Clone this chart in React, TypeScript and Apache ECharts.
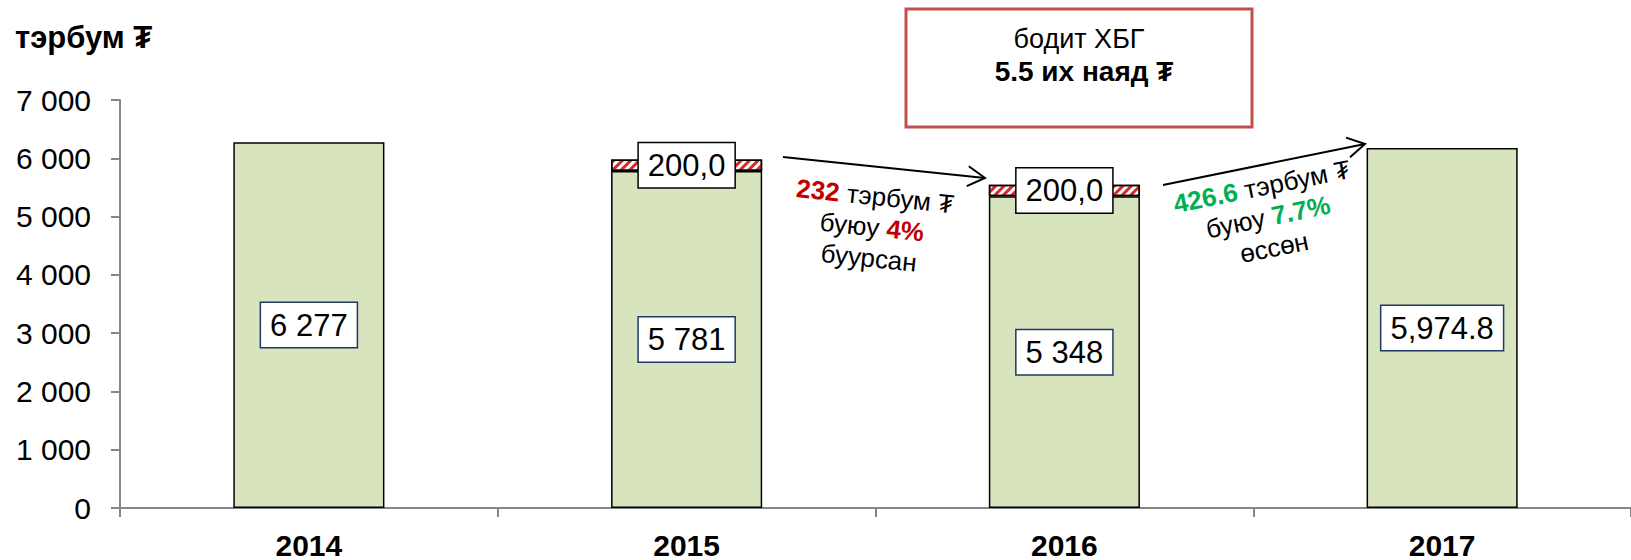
import React, { useEffect, useRef } from "react";
import * as echarts from "echarts";

const years = ["2014", "2015", "2016", "2017"];
const baseValues = [6277, 5781, 5348, 6175];
const baseLabels = ["6 277", "5 781", "5 348", "5,974.8"];
const hatchValues: (number | null)[] = [null, 200, 200, null];
const hatchLabels = ["", "200,0", "200,0", ""];
const yMax = 7000;
const yInterval = 1000;

const FONT = '"Liberation Sans", Arial, "DejaVu Sans", sans-serif';
const GREEN = "#00b050";
const RED = "#c00000";

function arrow(x1: number, y1: number, x2: number, y2: number) {
  const ang = Math.atan2(y2 - y1, x2 - x1) + Math.PI;
  const len = 20;
  const a1 = ang + Math.PI / 6;
  const a2 = ang - Math.PI / 6;
  return [
    { type: "line", shape: { x1, y1, x2, y2 }, style: { stroke: "#000", lineWidth: 2 }, z: 10 },
    {
      type: "polyline",
      shape: {
        points: [
          [x2 + len * Math.cos(a1), y2 + len * Math.sin(a1)],
          [x2, y2],
          [x2 + len * Math.cos(a2), y2 + len * Math.sin(a2)],
        ],
      },
      style: { stroke: "#000", lineWidth: 2, fill: null },
      z: 10,
    },
  ];
}

export default function App() {
  const ref = useRef<HTMLDivElement>(null);
  useEffect(() => {
    if (!ref.current) return;
    const chart = echarts.init(ref.current, undefined, { renderer: "svg" });
    const fmt = (v: number) => String(v).replace(/\B(?=(\d{3})+(?!\d))/g, " ");
    chart.setOption({
      animation: false,
      grid: { left: 120, top: 100, bottom: 51, right: -14, containLabel: false },
      xAxis: {
        type: "category",
        data: years,
        axisLine: { lineStyle: { color: "#868686", width: 2 } },
        axisTick: { show: true, length: 9, lineStyle: { color: "#868686", width: 2 } },
        axisLabel: { fontFamily: FONT, fontSize: 30, fontWeight: "bold", color: "#000", margin: 22 },
      },
      yAxis: {
        type: "value",
        min: 0,
        max: yMax,
        interval: yInterval,
        splitLine: { show: false },
        axisLine: { show: true, lineStyle: { color: "#868686", width: 2 } },
        axisTick: { show: true, length: 9, lineStyle: { color: "#868686", width: 2 } },
        axisLabel: { fontFamily: FONT, fontSize: 30, color: "#000", margin: 29, formatter: fmt },
      },
      series: [
        {
          type: "bar",
          stack: "t",
          data: baseValues,
          barWidth: "40%",
          itemStyle: { color: "#d7e4bd", borderColor: "#000", borderWidth: 1.5 },
          label: {
            show: true,
            position: "inside",
            formatter: (p: any) => baseLabels[p.dataIndex],
            fontFamily: FONT,
            fontSize: 31,
            color: "#000",
            backgroundColor: "#fff",
            borderColor: "#1f3864",
            borderWidth: 1.5,
            padding: [5, 9],
            lineHeight: 34,
          },
        },
        {
          type: "bar",
          stack: "t",
          data: hatchValues,
          barWidth: "40%",
          itemStyle: {
            color: "#fff",
            borderColor: "#000",
            borderWidth: 1.5,
            decal: {
              symbol: "rect",
              symbolSize: 1,
              dashArrayX: [1, 0],
              dashArrayY: [3, 3],
              rotation: -Math.PI / 4,
              color: "#d42a2a",
            },
          },
          label: {
            show: true,
            position: "inside",
            formatter: (p: any) => hatchLabels[p.dataIndex],
            fontFamily: FONT,
            fontSize: 31,
            color: "#000",
            backgroundColor: "#fff",
            borderColor: "#000",
            borderWidth: 1.5,
            padding: [5, 9],
            lineHeight: 34,
          },
          z: 3,
        },
      ],
      graphic: [
        {
          type: "text",
          x: 15,
          y: 37,
          style: { text: "тэрбум ₮", font: `bold 31px ${FONT}`, fill: "#000", textVerticalAlign: "middle" },
        },
        {
          type: "rect",
          shape: { x: 906, y: 9, width: 346, height: 118 },
          style: { fill: "#fff", stroke: "#c0504d", lineWidth: 3 },
        },
        {
          type: "text",
          x: 1079,
          y: 39,
          style: { text: "бодит ХБГ", font: `27px ${FONT}`, fill: "#000", textAlign: "center", textVerticalAlign: "middle" },
        },
        {
          type: "text",
          x: 1084,
          y: 71,
          style: { text: "5.5 их наяд ₮", font: `bold 28px ${FONT}`, fill: "#000", textAlign: "center", textVerticalAlign: "middle" },
        },
        ...arrow(783, 157, 985, 178),
        ...arrow(1163, 185, 1365, 144),
        {
          type: "text",
          x: 872,
          y: 227,
          rotation: -0.103,
          style: {
            text: "{r|232} тэрбум ₮\nбуюу {r|4%}\nбуурсан",
            font: `26px ${FONT}`,
            fill: "#000",
            textAlign: "center",
            textVerticalAlign: "middle",
            lineHeight: 31,
            rich: {
              r: { fill: RED, fontWeight: "bold", fontSize: 26, fontFamily: FONT, lineHeight: 31 },
            },
          },
          z: 10,
        },
        {
          type: "text",
          x: 1268,
          y: 217,
          rotation: 0.2,
          style: {
            text: "{g|426.6} тэрбум ₮\nбуюу {g|7.7%}\nөссөн",
            font: `26px ${FONT}`,
            fill: "#000",
            textAlign: "center",
            textVerticalAlign: "middle",
            lineHeight: 31,
            rich: {
              g: { fill: GREEN, fontWeight: "bold", fontSize: 26, fontFamily: FONT, lineHeight: 31 },
            },
          },
          z: 10,
        },
      ],
    });
    return () => chart.dispose();
  }, []);
  return (
    <div
      ref={ref}
      style={{ position: "absolute", left: 0, top: 0, width: 1631, height: 560, background: "#fff" }}
    />
  );
}
